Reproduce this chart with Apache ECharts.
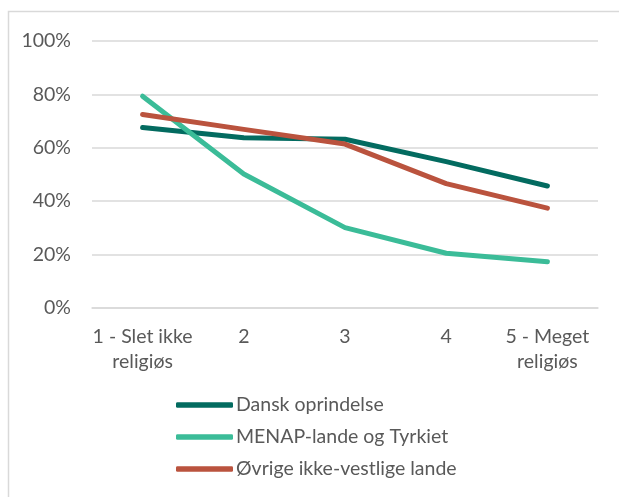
<!DOCTYPE html>
<html>
<head>
<meta charset="utf-8">
<style>html,body{margin:0;padding:0;background:#fff;}#c{width:619px;height:497px;}</style>
<script src="https://cdn.jsdelivr.net/npm/echarts@6/dist/echarts.min.js"></script>
</head>
<body>
<div id="c"></div>
<script>
const categories = ['1 - Slet ikke\nreligiøs', '2', '3', '4', '5 - Meget\nreligiøs'];
const seriesNames = ['Dansk oprindelse', 'MENAP-lande og Tyrkiet', 'Øvrige ikke-vestlige lande'];
const dansk = [67.6, 63.8, 63.2, 54.8, 45.7];
const menap = [79.3, 50.2, 30.1, 20.5, 17.3];
const ovrige = [72.5, 66.9, 61.4, 46.6, 37.4];
const colors = ['#036B60', '#3BBC98', '#BA533E'];
const yTicks = [0, 20, 40, 60, 80, 100];

const chart = echarts.init(document.getElementById('c'), null, {renderer: 'canvas'});
const font = 'Lato';
const fs = 19.5;
function line(name, data, color) {
  return {
    name: name, type: 'line', data: data, symbol: 'none',
    lineStyle: {color: color, width: 5, cap: 'round', join: 'round'},
    itemStyle: {color: color}
  };
}
chart.setOption({
  animation: false,
  backgroundColor: '#fff',
  graphic: [{
    type: 'rect', silent: true, z: -10,
    shape: {x: 8.5, y: 11.5, width: 700, height: 600},
    style: {fill: 'none', stroke: '#d9d9d9', lineWidth: 1.5}
  }],
  grid: {left: 92, right: 21, top: 41, bottom: 189},
  xAxis: {
    type: 'category', data: categories, boundaryGap: true,
    axisLine: {show: true, lineStyle: {color: '#d9d9d9', width: 1.5}},
    axisTick: {show: false},
    axisLabel: {color: '#595959', fontFamily: font, fontSize: fs, lineHeight: 25, margin: 16, interval: 0}
  },
  yAxis: {
    type: 'value', min: yTicks[0], max: yTicks[yTicks.length - 1], interval: 20,
    axisLine: {show: false}, axisTick: {show: false},
    splitLine: {lineStyle: {color: '#d9d9d9', width: 1.5}},
    axisLabel: {color: '#595959', fontFamily: font, fontSize: fs, margin: 21, formatter: '{value}%'}
  },
  legend: {
    orient: 'vertical', left: 171, top: 390, itemGap: 12, padding: 5,
    itemWidth: 57, itemHeight: 5.5, icon: 'roundRect',
    data: seriesNames,
    textStyle: {color: '#595959', fontFamily: font, fontSize: fs, lineHeight: 20, padding: [0, 0, 0, -2]}
  },
  series: [
    line(seriesNames[0], dansk, colors[0]),
    line(seriesNames[1], menap, colors[1]),
    line(seriesNames[2], ovrige, colors[2])
  ]
});
</script>
</body>
</html>
